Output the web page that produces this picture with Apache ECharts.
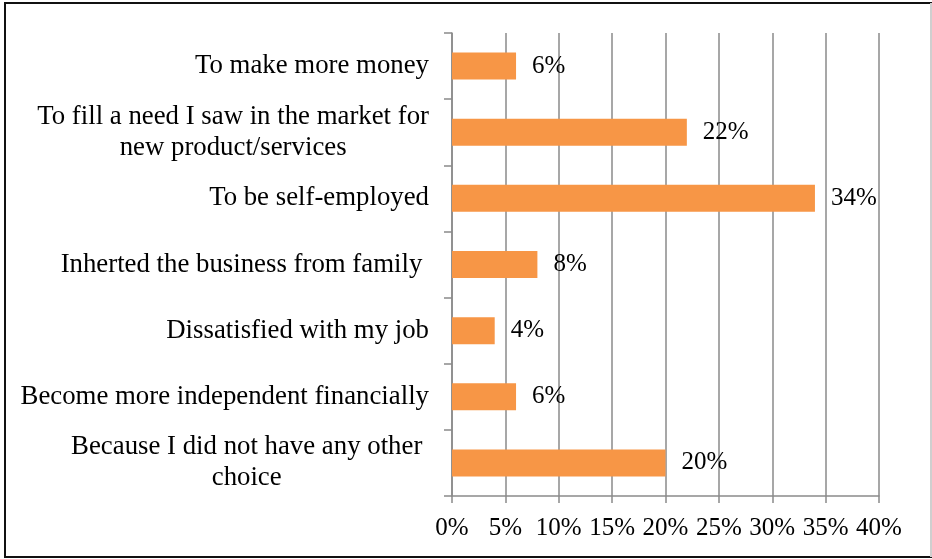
<!DOCTYPE html>
<html>
<head>
<meta charset="utf-8">
<script src="https://cdn.jsdelivr.net/npm/echarts@6/dist/echarts.min.js"></script>
<style>
  html, body { margin: 0; padding: 0; background: #fff; }
  #chart { width: 932px; height: 559px; }
</style>
</head>
<body>
<div id="chart"></div>
<script>
// Reasons for starting a business (share of respondents, %)
const categories = [
  'To make more money',
  'To fill a need I saw in the market for\nnew product/services',
  'To be self-employed',
  'Inherted the business from family ',
  'Dissatisfied with my job',
  'Become more independent financially',
  'Because I did not have any other \nchoice '
];
const values = [6, 22, 34, 8, 4, 6, 20];
const xTicks = { min: 0, max: 40, interval: 5 };

const FONT = '"Liberation Serif", "Times New Roman", serif';
const GRID_COLOR = '#8a8a8a';
const CAT_FONT_SIZE = 26.8;
const NUM_FONT_SIZE = 25;

const chart = echarts.init(document.getElementById('chart'), null, { renderer: 'canvas' });

chart.setOption({
  animation: false,
  backgroundColor: '#fff',
  textStyle: { fontFamily: FONT },
  grid: { left: 452, right: 53, top: 33, bottom: 63, containLabel: false },
  xAxis: {
    type: 'value',
    min: xTicks.min,
    max: xTicks.max,
    interval: xTicks.interval,
    axisLine: { show: true, lineStyle: { color: GRID_COLOR, width: 1.5 } },
    axisTick: { show: true, length: 7, lineStyle: { color: GRID_COLOR, width: 1.5 } },
    splitLine: { show: true, lineStyle: { color: GRID_COLOR, width: 1.5 } },
    axisLabel: {
      formatter: v => v + '%',
      color: '#000',
      fontFamily: FONT,
      fontSize: NUM_FONT_SIZE,
      margin: 20
    }
  },
  yAxis: {
    type: 'category',
    inverse: true,
    data: categories,
    axisLine: { show: true, lineStyle: { color: GRID_COLOR, width: 1.5 } },
    axisTick: { show: true, length: 8, lineStyle: { color: GRID_COLOR, width: 1.5 } },
    axisLabel: {
      margin: 23,
      color: '#000',
      fontFamily: FONT,
      fontSize: CAT_FONT_SIZE,
      lineHeight: 31,
      // wrapped labels: lines centred within a right-aligned block
      formatter: v => v.split('\n').map(line => '{c|' + line + '}').join('\n'),
      rich: {
        c: { align: 'center', color: '#000', fontFamily: FONT, fontSize: CAT_FONT_SIZE, lineHeight: 31 }
      }
    }
  },
  series: [{
    type: 'bar',
    data: values,
    barWidth: 27,
    itemStyle: { color: '#F79646' },
    label: {
      show: true,
      position: 'right',
      distance: 16,
      formatter: p => p.value + '%',
      color: '#000',
      fontFamily: FONT,
      fontSize: NUM_FONT_SIZE
    }
  }],
  graphic: [
    {
      type: 'rect',
      shape: { x: 5, y: 3, width: 926, height: 554 },
      style: { fill: 'none', stroke: '#111', lineWidth: 2 },
      silent: true
    },
    {
      type: 'line',
      shape: { x1: 931, y1: 3, x2: 931, y2: 557 },
      style: { stroke: '#cfcfcf', lineWidth: 2 },
      silent: true
    }
  ]
});
</script>
</body>
</html>
